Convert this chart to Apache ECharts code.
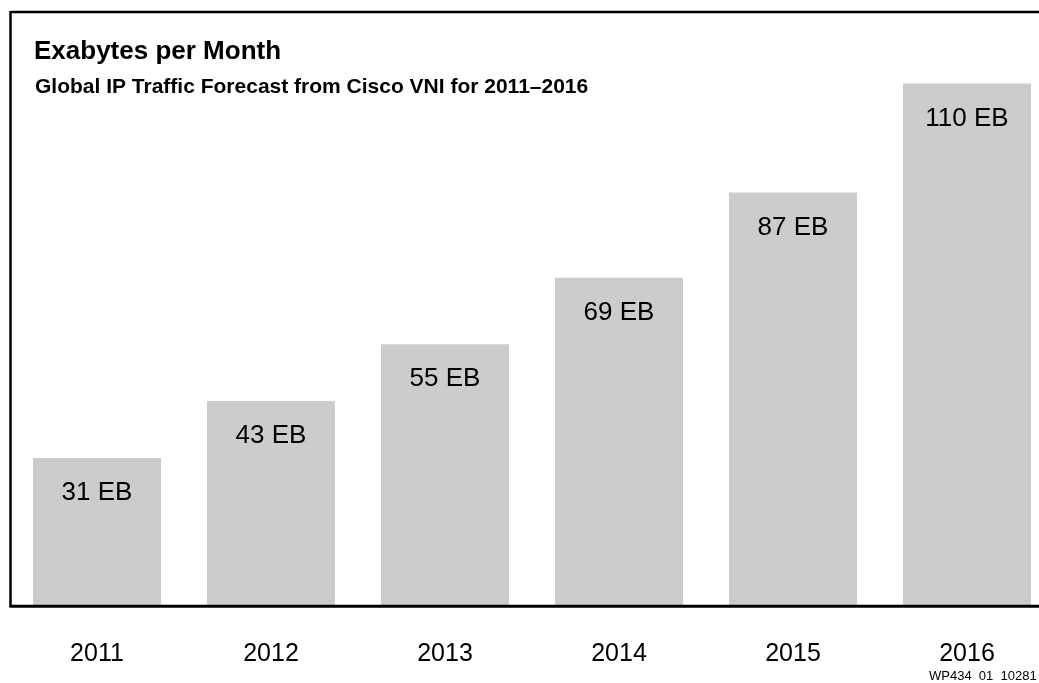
<!DOCTYPE html>
<html>
<head>
<meta charset="utf-8">
<script src="https://cdn.jsdelivr.net/npm/echarts@6/dist/echarts.min.js"></script>
<style>
html,body{margin:0;padding:0;background:#fff;overflow:hidden;width:1039px;height:683px;}
#chart{width:1054px;height:683px;}
</style>
</head>
<body>
<div id="chart"></div>
<script>
const years = ['2011', '2012', '2013', '2014', '2015', '2016'];
const exabytes = [31, 43, 55, 69, 87, 110];
const unit = 'EB';
const titleText = 'Exabytes per Month';
const subtitleText = 'Global IP Traffic Forecast from Cisco VNI for 2011\u20132016';
const footnoteText = 'WP434  01  10281';

const FONT = '"Liberation Sans", Arial, Helvetica, sans-serif';
const chart = echarts.init(document.getElementById('chart'), null, {renderer: 'canvas'});

chart.setOption({
  backgroundColor: '#ffffff',
  animation: false,
  grid: {left: 10, right: 0, top: 36, bottom: 78, containLabel: false},
  xAxis: {
    type: 'category',
    data: years,
    axisLine: {show: false},
    axisTick: {show: false},
    splitLine: {show: false},
    axisLabel: {
      color: '#000',
      fontSize: 25,
      fontFamily: FONT,
      margin: 37,
      interval: 0
    }
  },
  yAxis: {
    type: 'value',
    min: 0,
    max: 120,
    show: false,
    splitLine: {show: false}
  },
  series: [{
    type: 'bar',
    data: exabytes,
    barWidth: 128,
    itemStyle: {color: '#cccccc'},
    label: {
      show: true,
      position: 'insideTop',
      distance: 22,
      color: '#000',
      fontSize: 26,
      fontFamily: FONT,
      formatter: p => p.value + ' ' + unit
    }
  }],
  graphic: [
    {type: 'line', z: 100, shape: {x1: 10.5, y1: 12, x2: 1054, y2: 12}, style: {stroke: '#000', lineWidth: 2.5}},
    {type: 'line', z: 100, shape: {x1: 10.5, y1: 11, x2: 10.5, y2: 607}, style: {stroke: '#000', lineWidth: 2.5}},
    {type: 'line', z: 100, shape: {x1: 9.5, y1: 606.3, x2: 1054, y2: 606.3}, style: {stroke: '#000', lineWidth: 3}},
    {type: 'text', z: 100, left: 34, top: 51.5 - 13, style: {text: titleText, fill: '#000', font: 'bold 26px ' + FONT}},
    {type: 'text', z: 100, left: 35, top: 87.3 - 10.5, style: {text: subtitleText, fill: '#000', font: 'bold 21px ' + FONT}},
    {type: 'text', z: 100, left: 929, top: 670, style: {text: footnoteText, fill: '#000', font: '13px ' + FONT}}
  ]
});
</script>
</body>
</html>
